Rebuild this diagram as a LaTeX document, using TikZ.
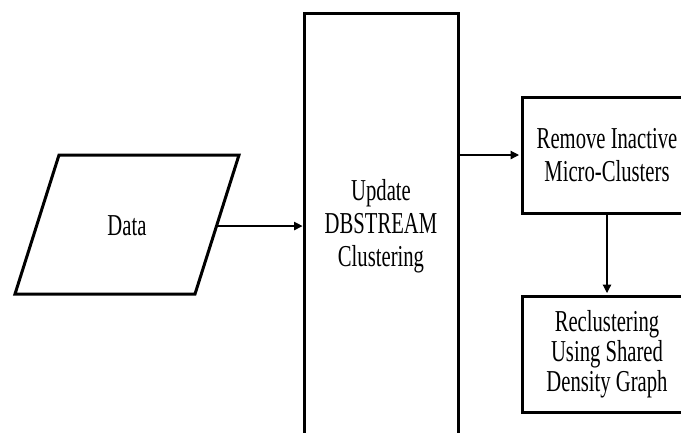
\documentclass[tikz,border=0pt]{standalone}
\usepackage{fontspec}
\setmainfont[FakeStretch=0.68]{Liberation Serif}
\usetikzlibrary{arrows.meta,calc}
\begin{document}
\begin{tikzpicture}[x=1bp,y=-1bp,
  box/.style={draw,line width=3bp,align=center,inner sep=0pt,font=\fontsize{30.5}{33}\selectfont},
  conn/.style={line width=1.2bp,shorten >=1.5bp,-{Triangle[length=8.5bp,width=8.5bp]}},
  lbl/.style={align=center,font=\fontsize{30.5}{33}\selectfont}]
\useasboundingbox (0,0) rectangle (681,432);
\clip (0,0) rectangle (681,432);
\fill[white] (0,0) rectangle (681,432);
% Data parallelogram
\draw[line width=3bp,line join=miter]
  (59,155) coordinate (dtl) -- (239,155) coordinate (dtr) --
  (195,294) coordinate (dbr) -- (15,294) coordinate (dbl) -- cycle;
\node[lbl] (data) at (127,226) {Data};
\coordinate (dataout) at ($(dtr)!0.511!(dbr)$);
% Update box (runs past the lower edge)
\draw[line width=3bp,line join=miter]
  (304,470) coordinate (ubl) -- (304,13) coordinate (utl) --
  (458,13) coordinate (utr) -- (458,470) coordinate (ubr);
\node[lbl] (update) at (381,226) {Update\\DBSTREAM\\Clustering};
% Remove box
\node[box,minimum width=170bp,minimum height=116bp] (remove) at (607,155)
  {Remove Inactive\\Micro-Clusters};
% Reclustering box
\node[box,minimum width=170bp,minimum height=116bp,font=\fontsize{30.5}{30}\selectfont] (recl) at (607,354)
  {Reclustering\\Using Shared\\Density Graph};
% connectors
\draw[conn] (dataout) -- (dataout -| utl);
\draw[conn] (utr |- remove.west) -- (remove.west);
\draw[conn] (remove.south) -- (recl.north);
\end{tikzpicture}
\end{document}
